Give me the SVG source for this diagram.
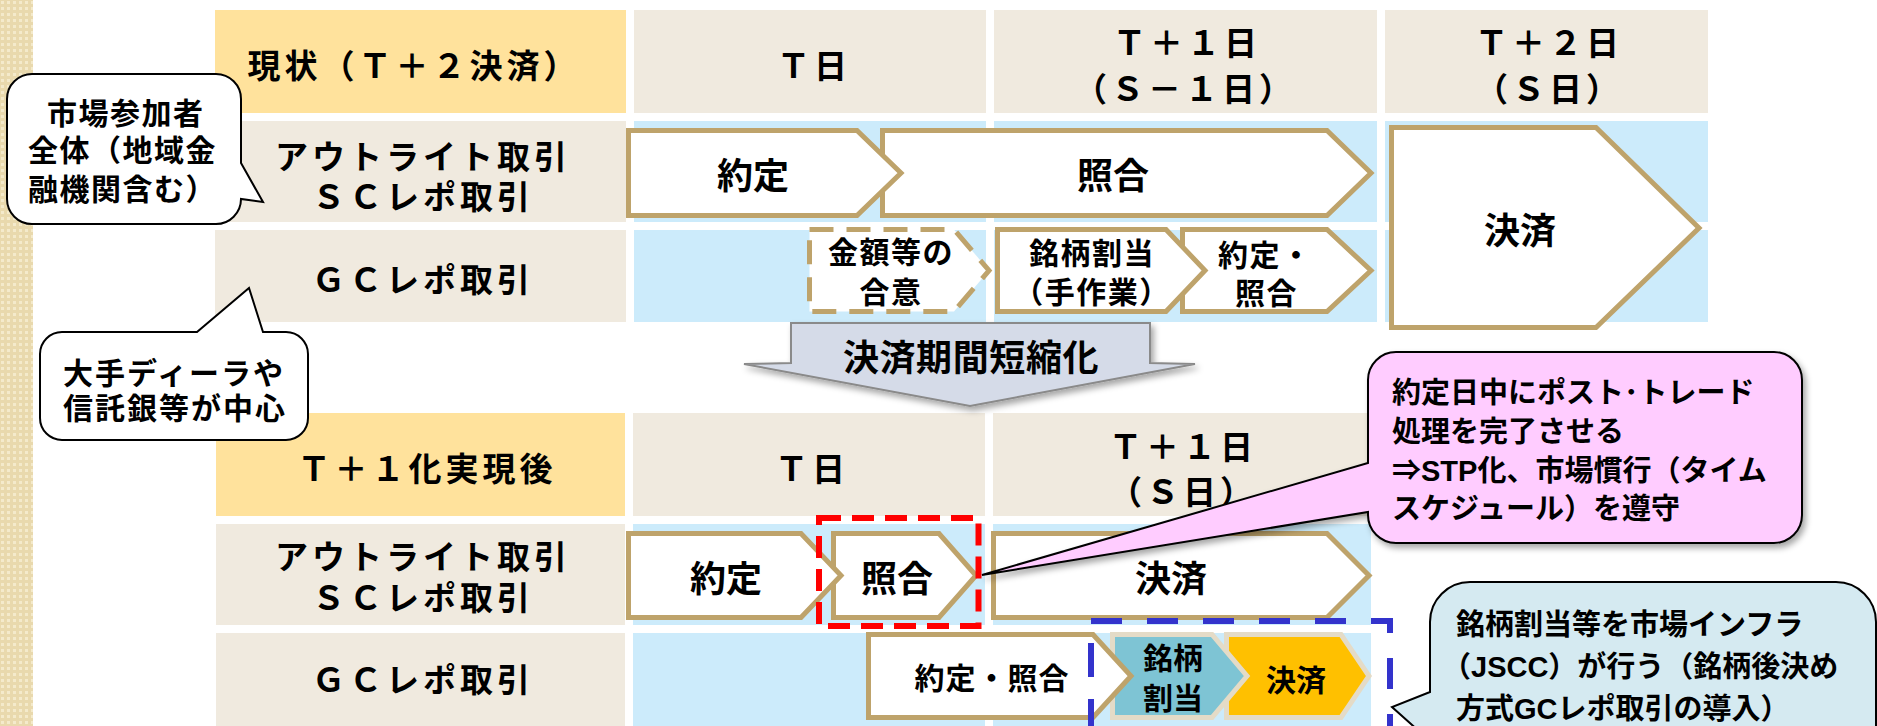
<svg xmlns="http://www.w3.org/2000/svg" width="1877" height="726" viewBox="0 0 1877 726">
<defs>
<pattern id="stripe" width="6" height="6" patternUnits="userSpaceOnUse"><rect width="6" height="6" fill="#E9D9AD"/><rect x="1" y="1" width="3" height="3" fill="#F4EACB"/></pattern>
<filter id="sh" x="-10%" y="-10%" width="130%" height="140%"><feDropShadow dx="3" dy="4" stdDeviation="3" flood-color="#000" flood-opacity="0.35"/></filter>
<style>
.cy{fill:#FFE29C}
.cb{fill:#F0EADF}
.cl{fill:#CCEBFB}
.pent{fill:#fff;stroke:#BEA36B;stroke-width:5}
.dash{fill:#fff;stroke:#BEA36B;stroke-width:5;stroke-dasharray:24 13}
.bub{fill:#fff;stroke:#000;stroke-width:2}
text{font-family:"Liberation Sans","Noto Sans CJK JP",sans-serif;font-weight:700;fill:#000}
.h{font-size:33px;letter-spacing:4px}
.p{font-size:36px}
.s{font-size:30px;letter-spacing:1.5px}
.c{font-size:29px}
</style>
</defs>
<rect x="0" y="0" width="1877" height="726" fill="#fff"/>
<rect x="0" y="0" width="33" height="726" fill="url(#stripe)"/>

<g id="grid-top">
<rect class="cy" x="215" y="10" width="411" height="103"/>
<rect class="cb" x="634" y="10" width="352" height="103"/>
<rect class="cb" x="994" y="10" width="383" height="103"/>
<rect class="cb" x="1385" y="10" width="323" height="103"/>
<rect class="cb" x="215" y="121" width="411" height="101"/>
<rect class="cl" x="634" y="121" width="352" height="101"/>
<rect class="cl" x="994" y="121" width="383" height="101"/>
<rect class="cl" x="1385" y="121" width="323" height="101"/>
<rect class="cb" x="215" y="230" width="411" height="92"/>
<rect class="cl" x="634" y="230" width="352" height="92"/>
<rect class="cl" x="994" y="230" width="383" height="92"/>
<rect class="cl" x="1385" y="230" width="323" height="92"/>
<text class="h" x="414" y="78" text-anchor="middle">現状（Ｔ＋２決済）</text>
<text class="h" x="814" y="78" text-anchor="middle">Ｔ日</text>
<text class="h" text-anchor="middle"><tspan x="1187" y="55">Ｔ＋１日</tspan><tspan x="1185" y="101">（Ｓ－１日）</tspan></text>
<text class="h" text-anchor="middle"><tspan x="1549" y="55">Ｔ＋２日</tspan><tspan x="1549" y="101">（Ｓ日）</tspan></text>
<text class="h" text-anchor="middle"><tspan x="423" y="169">アウトライト取引</tspan><tspan x="423" y="209">ＳＣレポ取引</tspan></text>
<text class="h" x="423" y="292" text-anchor="middle">ＧＣレポ取引</text>
</g>

<g id="grid-bottom">
<rect class="cy" x="216" y="413" width="409" height="103"/>
<rect class="cb" x="633" y="413" width="352" height="103"/>
<rect class="cb" x="993" y="413" width="378" height="103"/>
<rect class="cb" x="216" y="524" width="409" height="101"/>
<rect class="cl" x="633" y="524" width="352" height="101"/>
<rect class="cl" x="993" y="524" width="378" height="101"/>
<rect class="cb" x="216" y="633" width="409" height="100"/>
<rect class="cl" x="633" y="633" width="352" height="100"/>
<rect class="cl" x="993" y="633" width="378" height="100"/>
<text class="h" x="427" y="481" text-anchor="middle">Ｔ＋１化実現後</text>
<text class="h" x="812" y="481" text-anchor="middle">Ｔ日</text>
<text class="h" text-anchor="middle"><tspan x="1183" y="459">Ｔ＋１日</tspan><tspan x="1183" y="504">（Ｓ日）</tspan></text>
<text class="h" text-anchor="middle"><tspan x="423" y="569">アウトライト取引</tspan><tspan x="423" y="610">ＳＣレポ取引</tspan></text>
<text class="h" x="423" y="692" text-anchor="middle">ＧＣレポ取引</text>
</g>

<g id="top-shogo">
<path class="pent" d="M882.5,130.5 H1327 L1371,173 L1327,215.5 H882.5 Z"/>
<text class="p" x="1113" y="189" text-anchor="middle">照合</text>
</g>
<g id="top-yakujo">
<path class="pent" d="M628.5,130.5 H857 L901,173 L857,215.5 H628.5 Z"/>
<text class="p" x="753" y="189" text-anchor="middle">約定</text>
</g>
<g id="top-kessai">
<path class="pent" d="M1391.5,127.5 H1596 L1699,228 L1596,327.5 H1391.5 Z"/>
<text class="p" x="1520" y="244" text-anchor="middle">決済</text>
</g>
<g id="top-kingaku">
<path class="dash" d="M809.5,229.5 H954 L989,270.5 L954,311.5 H809.5 Z"/>
<text class="s" text-anchor="middle"><tspan x="891" y="263">金額等の</tspan><tspan x="891" y="303">合意</tspan></text>
</g>
<g id="top-gc-yakujo">
<path class="pent" d="M1182.5,229.5 H1327 L1371,270.5 L1327,311.5 H1182.5 Z"/>
<text class="s"><tspan x="1218" y="266">約定・</tspan><tspan x="1235" y="304">照合</tspan></text>
</g>
<g id="top-meigara">
<path class="pent" d="M997.5,229.5 H1166 L1205,270.5 L1166,311.5 H997.5 Z"/>
<text class="s" text-anchor="middle"><tspan x="1092" y="264">銘柄割当</tspan><tspan x="1092" y="303">（手作業）</tspan></text>
</g>

<g id="shortening-arrow">
<path d="M791,323 H1150 V363 L1195,364 L970,406 L744,364 L791,363 Z" fill="#D5DBE8" stroke="#8A8A8A" stroke-width="2" filter="url(#sh)"/>
<text x="971" y="371" text-anchor="middle" style="font-size:36px;letter-spacing:0.6px">決済期間短縮化</text>
</g>

<g id="bot-shogo">
<path class="pent" d="M833.5,533.5 H939 L976,575.5 L939,617.5 H833.5 Z"/>
<text class="p" x="897" y="592" text-anchor="middle">照合</text>
</g>
<g id="bot-yakujo">
<path class="pent" d="M628.5,533.5 H801 L841,575.5 L801,617.5 H628.5 Z"/>
<text class="p" x="726" y="592" text-anchor="middle">約定</text>
</g>
<g id="bot-kessai">
<path class="pent" d="M993.5,533.5 H1327 L1369,575.5 L1327,617.5 H993.5 Z"/>
<text class="p" x="1171" y="592" text-anchor="middle">決済</text>
</g>
<g id="bot-gc-kessai">
<path d="M1226.5,634.5 H1341 L1369,676 L1341,717.5 H1226.5 Z" fill="#FFC000" stroke="#E4DBC7" stroke-width="5"/>
<text x="1296" y="691" text-anchor="middle" style="font-size:30px">決済</text>
</g>
<g id="bot-gc-meigara">
<path d="M1112.5,634.5 H1212 L1247,676 L1212,717.5 H1112.5 Z" fill="#7EC4D4" stroke="#E4DBC7" stroke-width="5"/>
<text text-anchor="middle" style="font-size:30px"><tspan x="1173" y="669">銘柄</tspan><tspan x="1173" y="709">割当</tspan></text>
</g>
<g id="bot-gc-yakujo">
<path class="pent" d="M868.5,634.5 H1093 L1131,676 L1093,717.5 H868.5 Z"/>
<text x="992" y="689" text-anchor="middle" style="font-size:30px;letter-spacing:1px">約定・照合</text>
</g>

<g id="highlight-red">
<rect x="819" y="518" width="159.5" height="108" fill="none" stroke="#FF0000" stroke-width="6" stroke-dasharray="22 11"/>
</g>
<g id="highlight-blue">
<path d="M1091,621 H1390 V760" fill="none" stroke="#3333CC" stroke-width="6" stroke-dasharray="31 25"/>
<path d="M1091,643 V760" fill="none" stroke="#3333CC" stroke-width="6" stroke-dasharray="34 22"/>
</g>

<g id="callout-participants">
<path class="bub" d="M32,74 H216 A25,25 0 0 1 241,99 V163 L263,202 L241,199 A25,25 0 0 1 216,224 H32 A25,25 0 0 1 7,199 V99 A25,25 0 0 1 32,74 Z"/>
<text class="s"><tspan x="47" y="124">市場参加者</tspan><tspan x="28" y="161">全体（地域金</tspan><tspan x="28" y="200">融機関含む）</tspan></text>
</g>
<g id="callout-dealers">
<path class="bub" d="M62,332 H197 L249,288 L263,332 H286 A22,22 0 0 1 308,354 V418 A22,22 0 0 1 286,440 H62 A22,22 0 0 1 40,418 V354 A22,22 0 0 1 62,332 Z"/>
<text style="font-size:30px;letter-spacing:2px"><tspan x="63" y="384">大手ディーラや</tspan><tspan x="63" y="419">信託銀等が中心</tspan></text>
</g>

<g id="connectors">
<g id="callout-posttrade">
<path d="M1396,352 H1774 A28,28 0 0 1 1802,380 V515 A28,28 0 0 1 1774,543 H1396 A28,28 0 0 1 1368,515 V512 L982,575 L1368,463 V380 A28,28 0 0 1 1396,352 Z" fill="#FFCCFF" stroke="#000" stroke-width="2" filter="url(#sh)"/>
<text class="c"><tspan x="1392" y="403">約定日中にポスト･トレード</tspan><tspan x="1392" y="442">処理を完了させる</tspan><tspan x="1392" y="481">⇒STP化、市場慣行（タイム</tspan><tspan x="1392" y="519">スケジュール）を遵守</tspan></text>
</g>
<g id="callout-jscc">
<path d="M1430,692 L1392,707 L1430,741 V760 H1876 V622 A40,40 0 0 0 1836,582 H1470 A40,40 0 0 0 1430,622 Z" fill="#D5EAF1" stroke="#000" stroke-width="2"/>
<text class="c"><tspan x="1456" y="635">銘柄割当等を市場インフラ</tspan><tspan x="1442" y="677">（JSCC）が行う（銘柄後決め</tspan><tspan x="1456" y="719">方式GCレポ取引の導入）</tspan></text>
</g>
</g>
</svg>
